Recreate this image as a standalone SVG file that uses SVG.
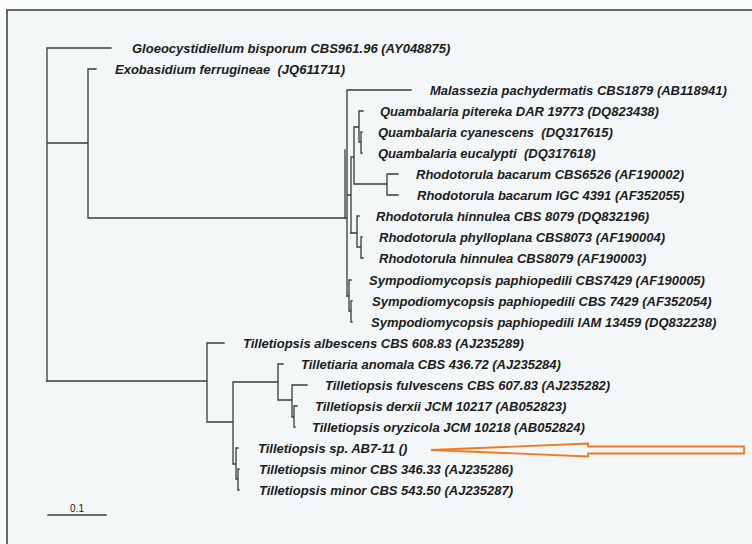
<svg xmlns="http://www.w3.org/2000/svg" width="752" height="544" viewBox="0 0 752 544">
<style>
.bg{fill:#f3f7f7}
.frame{fill:none;stroke:#3a3a3a;stroke-width:1.5}
.br{fill:none;stroke:#3a3a3a;stroke-width:1.3;stroke-linecap:square}
.lb{font-family:"Liberation Sans",Arial,sans-serif;font-size:13px;font-weight:bold;font-style:italic;fill:#1c1c1c}
.sc{font-family:"Liberation Sans",Arial,sans-serif;font-size:10px;fill:#222;text-anchor:middle}
.arrow{fill:none;stroke:#ee7b23;stroke-width:1.8;stroke-linejoin:miter}
</style>
<rect x="0" y="0" width="752" height="544" fill="#fbfcfc"/>
<rect class="bg" x="7" y="10" width="760" height="560"/>
<path class="frame" d="M7,560 V10 H760"/>

<g id="connectors" class="br">
<path d="M47,48 V381 M47,48 H111 M47,143 H88 M88,69 V218 M88,69 H96 M88,218 H347"/>
<path d="M47,381 H207 M207,343 V422 M207,343 H224 M207,422 H233 M233,382 V464 M233,382 H278 M278,364 V400 M278,364 H283 M278,400 H292 M292,385 V417 M292,385 H307 M292,417 H294 M294,406 V427 M294,406 H297 M294,427 H295 M233,464 H236 M236,448 V479 M236,448 H238 M236,479 H238 M238,469 V490 M238,469 H239 M238,490 H239"/>
<path d="M347,90 V296 M345,150 V218 M347,90 H411 M347,195 H351 M351,157 V233 M351,157 H354 M354,127 V184 M354,127 H359 M359,111 V142 M359,111 H363 M359,142 H361 M361,132 V153 M361,132 H362 M361,153 H362 M354,184 H387 M387,174 V195 M387,174 H398 M387,195 H398"/>
<path d="M351,233 H357 M357,216 V247 M357,216 H359 M357,247 H361 M361,237 V258 M361,237 H362 M361,258 H363"/>
<path d="M347,296 H349 M349,280 V311 M349,280 H351 M349,311 H351 M351,301 V322 M351,301 H352 M351,322 H352"/>
</g>

<g id="n-gloeo"><text class="lb" x="132" y="52.5">Gloeocystidiellum bisporum CBS961.96 (AY048875)</text></g>
<g id="n-exo"><text class="lb" x="115" y="73.5">Exobasidium ferrugineae &#160;(JQ611711)</text></g>
<g id="n-mal"><text class="lb" x="430" y="94.5">Malassezia pachydermatis CBS1879 (AB118941)</text></g>
<g id="n-qpit"><text class="lb" x="380" y="115.5">Quambalaria pitereka DAR 19773 (DQ823438)</text></g>
<g id="n-qcya"><text class="lb" x="378" y="136.5">Quambalaria cyanescens &#160;(DQ317615)</text></g>
<g id="n-qeuc"><text class="lb" x="378" y="157.5">Quambalaria eucalypti &#160;(DQ317618)</text></g>
<g id="n-rbac1"><text class="lb" x="416" y="178.5">Rhodotorula bacarum CBS6526 (AF190002)</text></g>
<g id="n-rbac2"><text class="lb" x="417" y="199.5">Rhodotorula bacarum IGC 4391 (AF352055)</text></g>
<g id="n-rhin1"><text class="lb" x="376" y="220.5">Rhodotorula hinnulea CBS 8079 (DQ832196)</text></g>
<g id="n-rphy"><text class="lb" x="379" y="241.5">Rhodotorula phylloplana CBS8073 (AF190004)</text></g>
<g id="n-rhin2"><text class="lb" x="379" y="262.5">Rhodotorula hinnulea CBS8079 (AF190003)</text></g>
<g id="n-symp1"><text class="lb" x="369" y="284.5">Sympodiomycopsis paphiopedili CBS7429 (AF190005)</text></g>
<g id="n-symp2"><text class="lb" x="372" y="305.5">Sympodiomycopsis paphiopedili CBS 7429 (AF352054)</text></g>
<g id="n-symp3"><text class="lb" x="371" y="326.5">Sympodiomycopsis paphiopedili IAM 13459 (DQ832238)</text></g>
<g id="n-talb"><text class="lb" x="243" y="347.5">Tilletiopsis albescens CBS 608.83 (AJ235289)</text></g>
<g id="n-tano"><text class="lb" x="301" y="368.5">Tilletiaria anomala CBS 436.72 (AJ235284)</text></g>
<g id="n-tful"><text class="lb" x="325" y="389.5">Tilletiopsis fulvescens CBS 607.83 (AJ235282)</text></g>
<g id="n-tder"><text class="lb" x="315" y="410.5">Tilletiopsis derxii JCM 10217 (AB052823)</text></g>
<g id="n-tory"><text class="lb" x="312" y="431.5">Tilletiopsis oryzicola JCM 10218 (AB052824)</text></g>
<g id="n-tsp"><text class="lb" x="258" y="452.5">Tilletiopsis sp. AB7-11 ()</text></g>
<g id="n-tmin1"><text class="lb" x="259" y="473.5">Tilletiopsis minor CBS 346.33 (AJ235286)</text></g>
<g id="n-tmin2"><text class="lb" x="259" y="494.5">Tilletiopsis minor CBS 543.50 (AJ235287)</text></g>

<g id="scalebar">
<path class="br" d="M48,515 H106"/>
<text class="sc" x="77" y="512">0.1</text>
</g>

<g id="arrow">
<polygon class="arrow" points="431,450 588,443.5 588,446.5 744,446.5 744,453.5 588,453.5 588,456.5"/>
</g>
</svg>
